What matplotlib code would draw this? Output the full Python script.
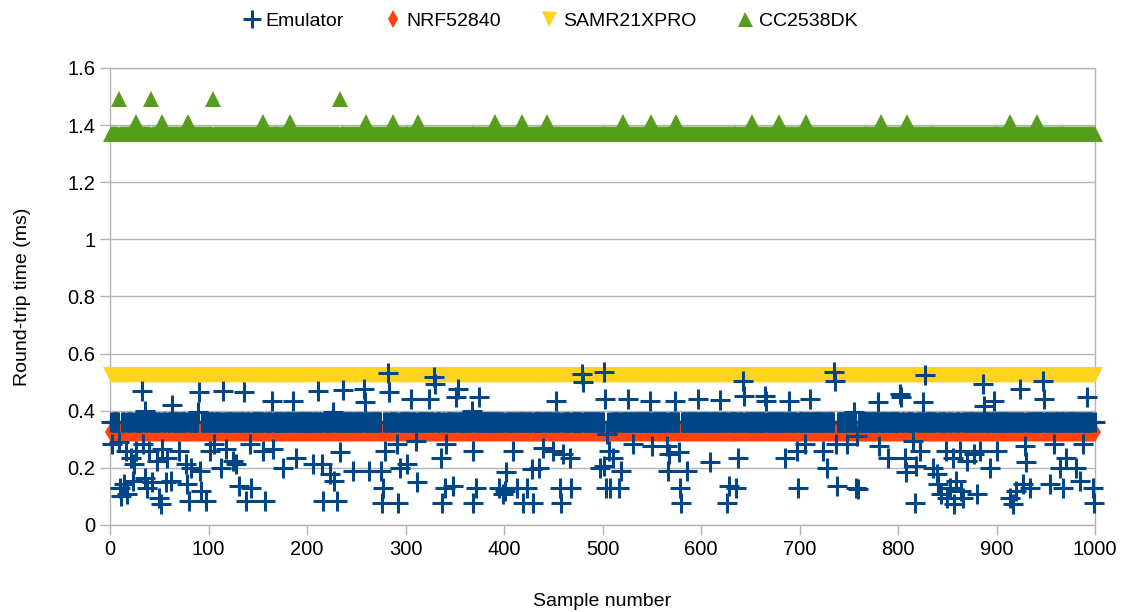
import numpy as np
import matplotlib
matplotlib.use('Agg')
import matplotlib.pyplot as plt

plt.rcParams['font.family'] = ['Liberation Sans', 'DejaVu Sans']

# ── Data ─────────────────────────────────────────────────────────────────────
n_samples = 1000

emu_base = 0.36
emu_idx = [
    32, 35, 63, 90, 115, 136, 164, 186, 211, 237, 89, 226,
    2, 9, 16, 21, 24, 26, 33, 40, 48, 53, 58, 70, 77, 82, 91, 101, 106, 113,
    118, 125, 128, 142, 155, 165, 176, 189, 206, 215, 223, 227, 233, 247,
    10, 11, 17, 14, 23, 36, 38, 43, 50, 52, 57, 62, 78, 80, 92, 97, 131, 138,
    143, 157, 216, 230,
    282, 329, 330, 258, 283, 259, 306, 324, 353, 351, 375, 367, 453, 479, 480,
    502, 503,
    279, 291, 311, 336, 341, 368, 409, 440, 450, 467, 460, 263, 275, 294, 302,
    312, 277, 340, 348, 372, 395, 401, 402, 413, 423, 436, 428, 457, 468, 276,
    292, 337, 369, 399, 419, 429, 458, 497, 504,
    526, 548, 574, 597, 619, 643, 644, 665, 666, 689, 711, 735, 736, 755,
    505, 507, 511, 501, 519, 531, 550, 565, 568, 578, 566, 586, 609, 638, 685,
    697, 706, 724, 728, 737, 748, 508, 517, 579, 580, 628, 636, 626, 698, 738,
    757,
    827, 802, 803, 780, 825, 886, 897, 887, 924, 947, 948, 992,
    758, 781, 790, 807, 815, 822, 808, 818, 836, 840, 849, 856, 863, 870, 877,
    883, 893, 900, 929, 930, 958, 964, 971, 981, 988, 759, 817, 841, 844, 850,
    853, 857, 859, 864, 866, 880, 914, 917, 920, 927, 934, 954, 968, 985, 998,
    999,
]
emu_val = [
    .47, .40, .42, .465, .468, .464, .435, .435, .47, .472, .394, .394,
    .283, .29, .26, .236, .213, .26, .283, .26, .225, .265, .236, .26, .213,
    .20, .19, .26, .283, .20, .265, .225, .213, .283, .26, .265, .20, .236,
    .213, .213, .178, .154, .254, .19,
    .131, .102, .108, .143, .154, .166, .131, .149, .096, .073, .149, .154,
    .143, .084, .119, .084, .137, .084, .131, .084, .084, .084,
    .531, .517, .494, .476, .464, .429, .441, .441, .476, .447, .447, .40,
    .435, .529, .50, .535, .441,
    .26, .283, .295, .236, .283, .26, .26, .271, .26, .236, .248, .19, .19,
    .20, .213, .149, .131, .131, .137, .131, .131, .119, .184, .131, .131,
    .20, .195, .131, .131, .078, .078, .078, .078, .108, .078, .078, .078,
    .20, .131,
    .441, .435, .435, .441, .437, .505, .453, .453, .435, .435, .441, .535,
    .505, .394,
    .318, .26, .236, .207, .19, .283, .277, .277, .248, .254, .19, .19, .219,
    .236, .236, .26, .283, .26, .20, .283, .283, .131, .131, .131, .078, .137,
    .131, .078, .131, .137, .131,
    .526, .458, .447, .429, .429, .494, .435, .418, .476, .505, .441, .447,
    .312, .277, .236, .236, .295, .26, .184, .207, .20, .178, .26, .236, .26,
    .225, .248, .26, .20, .26, .277, .219, .283, .20, .236, .20, .283, .125,
    .078, .143, .108, .096, .131, .073, .154, .119, .096, .108, .096, .073,
    .119, .143, .131, .143, .131, .154, .131, .078,
]

nrf_base = 0.325

samr_base = 0.525

cc_base = 1.37
cc_high_idx = [9, 42, 105, 233]
cc_high_val = 1.49
cc_mid_idx = [26, 53, 79, 155, 183, 260, 287, 313, 391, 418, 444, 521, 549,
              575, 652, 679, 707, 783, 809, 914, 941]
cc_mid_val = 1.41

# ── Build full series ────────────────────────────────────────────────────────
x = np.arange(1, n_samples + 1)

emu = np.full(n_samples, emu_base)
emu[np.array(emu_idx) - 1] = emu_val

nrf = np.full(n_samples, nrf_base)
samr = np.full(n_samples, samr_base)

cc = np.full(n_samples, cc_base)
cc[np.array(cc_mid_idx) - 1] = cc_mid_val
cc[np.array(cc_high_idx) - 1] = cc_high_val

# ── Figure ───────────────────────────────────────────────────────────────────
fig = plt.figure(figsize=(11.24, 6.12), dpi=100)
ax = fig.add_axes([0.0979, 0.1422, 0.8763, 0.7467])

GRID = '#b3b3b3'

ax.plot(x, cc, linestyle='none', marker='^', markersize=12,
        color='#579d1c', markeredgewidth=0, label='CC2538DK',
        clip_on=False, zorder=3)
ax.plot(x, samr, linestyle='none', marker='v', markersize=12,
        color='#ffd320', markeredgewidth=0, label='SAMR21XPRO',
        clip_on=False, zorder=3)
ax.plot(x, nrf, linestyle='none', marker='d', markersize=10,
        color='#ff420e', markeredgewidth=0, label='NRF52840',
        clip_on=False, zorder=4)
ax.plot(x, emu, linestyle='none', marker='+', markersize=14,
        markeredgewidth=2.2, color='#004586', label='Emulator',
        clip_on=False, zorder=5)

ax.set_xlim(0, 1000)
ax.set_ylim(0, 1.6)
ax.set_xticks(np.arange(0, 1001, 100))
yt = np.arange(0, 1.61, 0.2)
ax.set_yticks(yt)
ax.set_yticklabels([f'{v:g}' for v in np.round(yt, 1)])

ax.grid(axis='y', color=GRID, linewidth=1)
ax.set_axisbelow(True)
for s in ax.spines.values():
    s.set_color(GRID)
    s.set_linewidth(1)
ax.tick_params(colors=GRID, labelcolor='black', labelsize=14.5,
               length=7, width=1, direction='out')

ax.set_xlabel('Sample number', fontsize=14, labelpad=25)
ax.set_ylabel('Round-trip time (ms)', fontsize=14, labelpad=26)

handles, labels = ax.get_legend_handles_labels()
order = [3, 2, 1, 0]
fig.legend([handles[i] for i in order], [labels[i] for i in order],
           loc='center', bbox_to_anchor=(0.49, 0.966), ncol=4, frameon=False,
           fontsize=14, handlelength=0.8, handletextpad=0.3,
           columnspacing=2.1, markerscale=0.9)

fig.savefig('out.png', dpi=100)
